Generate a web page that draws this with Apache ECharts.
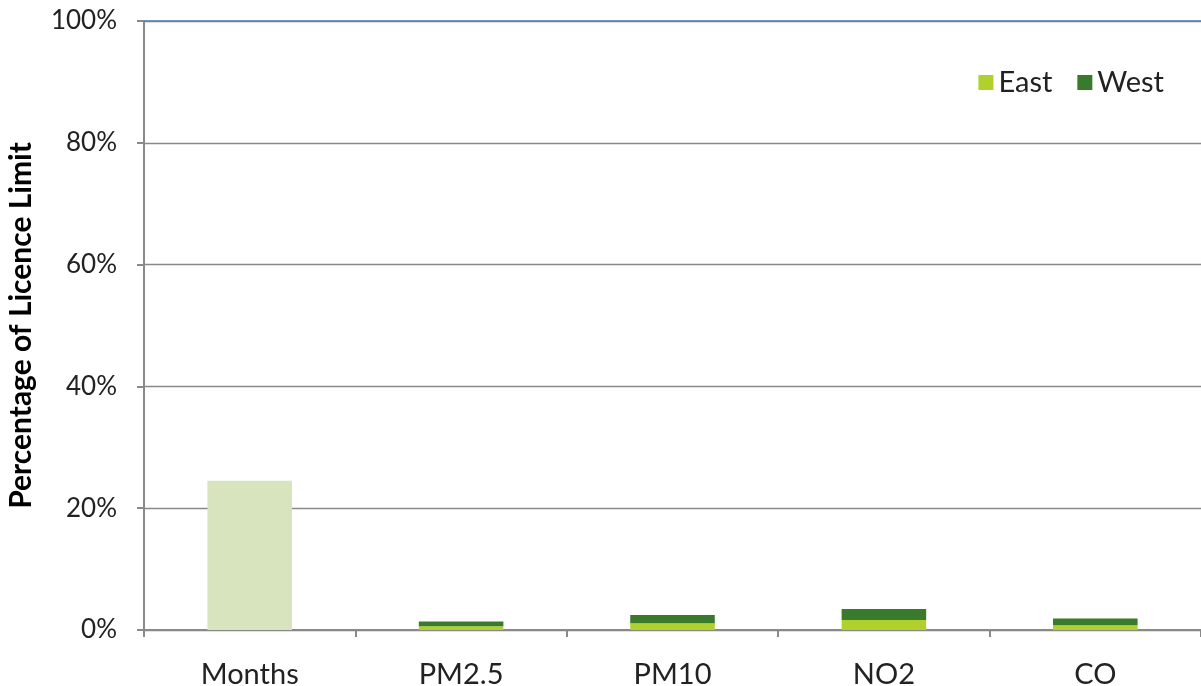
<!DOCTYPE html>
<html><head><meta charset="utf-8">
<script src="https://cdn.jsdelivr.net/npm/echarts@6/dist/echarts.min.js"></script>
<style>html,body{margin:0;padding:0;background:#fff}#c{width:1201px;height:686px}</style>
</head><body><div id="c"></div>
<script>
const categories = ['Months', 'PM2.5', 'PM10', 'NO2', 'CO'];
const monthsValues = [24.5, '-', '-', '-', '-'];
const eastValues = ['-', 0.6, 1.1, 1.65, 0.8];
const westValues = ['-', 0.8, 1.35, 1.8, 1.1];
const yTicks = [0, 20, 40, 60, 80, 100];

const chart = echarts.init(document.getElementById('c'));
const font = 'Lato, "Open Sans", sans-serif';
chart.setOption({
  animation: false,
  textStyle: { fontFamily: font },
  grid: { left: 144, top: 21, right: 0, bottom: 56, containLabel: false, outerBoundsMode: 'none' },
  legend: {
    data: ['East', 'West'], top: 63, right: 32, itemWidth: 15, itemHeight: 15, itemGap: 25,
    icon: 'rect', textStyle: { fontSize: 29, color: '#222', fontFamily: font }
  },
  xAxis: {
    type: 'category', data: categories,
    axisLine: { lineStyle: { color: '#898989', width: 2 } },
    axisTick: { show: true, length: 7, lineStyle: { color: '#898989', width: 2 } },
    axisLabel: { fontSize: 29, color: '#222', margin: 30 }
  },
  yAxis: {
    type: 'value', min: 0, max: 100, interval: 20,
    name: 'Percentage of Licence Limit', nameLocation: 'middle', nameGap: 108,
    nameTextStyle: { fontSize: 30, fontWeight: 'bold', color: '#000', fontFamily: font },
    axisLine: { show: true, lineStyle: { color: '#898989', width: 2 } },
    axisTick: { show: true, length: 7, inside: false, lineStyle: { color: '#898989', width: 2 } },
    axisLabel: { fontSize: 26, color: '#222', margin: 27, formatter: v => yTicks.includes(v) ? v + '%' : '' },
    splitLine: { show: true, lineStyle: { color: '#898989', width: 1.3 } }
  },
  series: [
    { name: 'Months', type: 'bar', stack: 's', data: monthsValues, barWidth: '40%',
      itemStyle: { color: '#d7e4bd' },
      markLine: { silent: true, symbol: 'none', label: { show: false },
        lineStyle: { color: '#4f81bd', width: 1.5, type: 'solid' }, data: [{ yAxis: 100 }] } },
    { name: 'East', type: 'bar', stack: 's', data: eastValues, barWidth: '40%', itemStyle: { color: '#b0d12b' } },
    { name: 'West', type: 'bar', stack: 's', data: westValues, barWidth: '40%', itemStyle: { color: '#3a7a2c' } }
  ]
});
</script></body></html>
